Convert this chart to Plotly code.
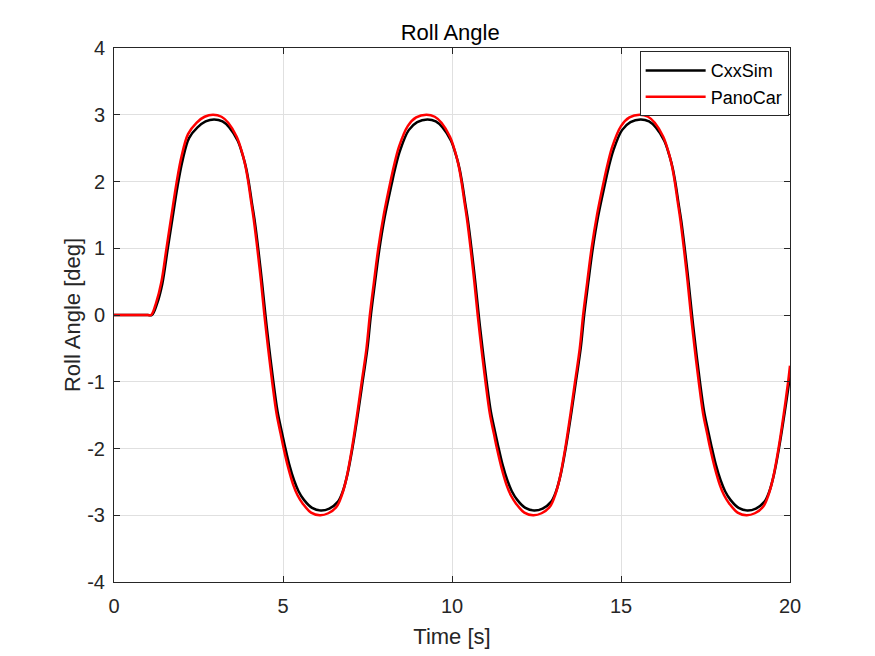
import plotly.graph_objects as go

# PanoCar roll angle (time in s, angle in deg)
t_pano = [0.0, 0.5, 1.0, 1.1,
          1.25, 1.40, 1.55, 1.70, 1.85, 2.00, 2.19, 2.44, 2.68, 2.93,
          3.18, 3.38, 3.63, 3.78, 3.88, 3.97, 4.05, 4.13, 4.24, 4.35, 4.45,
          4.56, 4.68, 4.81, 4.93, 5.02, 5.15, 5.30, 5.43, 5.59, 5.83, 6.09,
          6.34, 6.59, 6.74, 6.88, 7.04, 7.19, 7.33, 7.47, 7.57,
          7.69, 7.82, 7.98, 8.18, 8.29, 8.43, 8.69, 8.94, 9.24,
          9.49, 9.69, 9.94, 10.09, 10.19, 10.28, 10.36, 10.44, 10.55, 10.66, 10.76,
          10.87, 10.99, 11.12, 11.24, 11.33, 11.46, 11.61, 11.74, 11.90, 12.14, 12.40,
          12.65, 12.90, 13.05, 13.19, 13.35, 13.50, 13.64, 13.78, 13.88,
          14.00, 14.13, 14.29, 14.49, 14.60, 14.74, 15.00, 15.25, 15.55,
          15.80, 16.00, 16.25, 16.40, 16.50, 16.59, 16.67, 16.75, 16.86, 16.97, 17.07,
          17.18, 17.30, 17.43, 17.55, 17.64, 17.77, 17.92, 18.05, 18.21, 18.45, 18.71,
          18.96, 19.21, 19.36, 19.50, 19.66, 19.81, 19.95, 20.0]
roll_pano = [0.0, 0.0, 0.0, 0.0,
             0.19, 0.49, 0.99, 1.49, 1.98, 2.38, 2.71, 2.88, 2.97, 3.00,
             2.97, 2.88, 2.67, 2.45, 2.25, 2.00, 1.72, 1.45, 1.00, 0.50, 0.00,
             -0.50, -1.00, -1.48, -1.78, -2.00, -2.28, -2.54, -2.70, -2.83, -2.96, -3.00,
             -2.97, -2.87, -2.70, -2.44, -2.00, -1.50, -1.00, -0.50, 0.00,
             0.49, 1.00, 1.50, 2.00, 2.25, 2.52, 2.83, 2.96, 3.00,
             2.97, 2.88, 2.67, 2.45, 2.25, 2.00, 1.72, 1.45, 1.00, 0.50, 0.00,
             -0.50, -1.00, -1.48, -1.78, -2.00, -2.28, -2.54, -2.70, -2.83, -2.96, -3.00,
             -2.97, -2.87, -2.70, -2.44, -2.00, -1.50, -1.00, -0.50, 0.00,
             0.49, 1.00, 1.50, 2.00, 2.25, 2.52, 2.83, 2.96, 3.00,
             2.97, 2.88, 2.67, 2.45, 2.25, 2.00, 1.72, 1.45, 1.00, 0.50, 0.00,
             -0.50, -1.00, -1.48, -1.78, -2.00, -2.28, -2.54, -2.70, -2.83, -2.96, -3.00,
             -2.97, -2.87, -2.70, -2.44, -2.00, -1.50, -0.98, -0.76]

# CxxSim roll angle (slightly smaller amplitude, tiny lag)
t_cxx = [0.0, 0.5, 1.0, 1.12,
         1.28, 1.43, 1.58, 1.73, 1.88, 2.03, 2.22, 2.47, 2.71, 2.96,
         3.21, 3.41, 3.66, 3.81, 3.91, 4.00, 4.08, 4.16, 4.27, 4.38, 4.48,
         4.59, 4.71, 4.84, 4.96, 5.05, 5.18, 5.33, 5.46, 5.62, 5.86, 6.12,
         6.37, 6.62, 6.77, 6.91, 7.07, 7.22, 7.36, 7.50, 7.60,
         7.72, 7.85, 8.01, 8.21, 8.32, 8.46, 8.72, 8.97, 9.27,
         9.52, 9.72, 9.97, 10.12, 10.22, 10.31, 10.39, 10.47, 10.58, 10.69, 10.79,
         10.90, 11.02, 11.15, 11.27, 11.36, 11.49, 11.64, 11.77, 11.93, 12.17, 12.43,
         12.68, 12.93, 13.08, 13.22, 13.38, 13.53, 13.67, 13.81, 13.91,
         14.03, 14.16, 14.32, 14.52, 14.63, 14.77, 15.03, 15.28, 15.58,
         15.83, 16.03, 16.28, 16.43, 16.53, 16.62, 16.70, 16.78, 16.89, 17.00, 17.10,
         17.21, 17.33, 17.46, 17.58, 17.67, 17.80, 17.95, 18.08, 18.24, 18.48, 18.74,
         18.99, 19.24, 19.39, 19.53, 19.69, 19.84, 19.98, 20.0]
roll_cxx = [0.0, 0.0, 0.0, 0.0,
            0.18, 0.47, 0.96, 1.45, 1.93, 2.32, 2.65, 2.81, 2.90, 2.93,
            2.90, 2.81, 2.61, 2.39, 2.20, 1.95, 1.68, 1.42, 0.98, 0.49, 0.00,
            -0.49, -0.98, -1.45, -1.74, -1.95, -2.23, -2.48, -2.64, -2.77, -2.89, -2.93,
            -2.90, -2.80, -2.64, -2.38, -1.95, -1.47, -0.98, -0.49, 0.00,
            0.48, 0.98, 1.47, 1.95, 2.20, 2.46, 2.77, 2.89, 2.93,
            2.90, 2.81, 2.61, 2.39, 2.20, 1.95, 1.68, 1.42, 0.98, 0.49, 0.00,
            -0.49, -0.98, -1.45, -1.74, -1.95, -2.23, -2.48, -2.64, -2.77, -2.89, -2.93,
            -2.90, -2.80, -2.64, -2.38, -1.95, -1.47, -0.98, -0.49, 0.00,
            0.48, 0.98, 1.47, 1.95, 2.20, 2.46, 2.77, 2.89, 2.93,
            2.90, 2.81, 2.61, 2.39, 2.20, 1.95, 1.68, 1.42, 0.98, 0.49, 0.00,
            -0.49, -0.98, -1.45, -1.74, -1.95, -2.23, -2.48, -2.64, -2.77, -2.89, -2.93,
            -2.90, -2.80, -2.64, -2.38, -1.95, -1.47, -0.98, -0.88]

x_ticks = [0, 5, 10, 15, 20]
y_ticks = [-4, -3, -2, -1, 0, 1, 2, 3, 4]
y_tick_labels = ["-4", "-3", "-2", "-1", "0", "1", "2", "3", "4"]  # plain hyphen, like MATLAB

fig = go.Figure()
fig.add_trace(go.Scatter(x=t_cxx, y=roll_cxx, mode="lines", name="CxxSim",
                         line=dict(color="black", width=2.5, shape="spline", smoothing=1)))
fig.add_trace(go.Scatter(x=t_pano, y=roll_pano, mode="lines", name="PanoCar",
                         line=dict(color="red", width=2.5, shape="spline", smoothing=1)))

axis_style = dict(showline=True, linecolor="#262626", linewidth=1, mirror="ticks",
                  ticks="inside", ticklen=6, tickcolor="#262626",
                  showgrid=True, gridcolor="#e0e0e0", gridwidth=1, zeroline=False,
                  tickfont=dict(size=20, color="#262626"))

fig.update_xaxes(range=[0, 20], tickvals=x_ticks, ticklabelstandoff=6,
                 title=dict(text="Time [s]", font=dict(size=22, color="#262626"), standoff=12),
                 **axis_style)
fig.update_yaxes(range=[-4, 4], tickvals=y_ticks, ticktext=y_tick_labels, ticklabelstandoff=4,
                 title=dict(text="Roll Angle [deg]", font=dict(size=22, color="#262626"), standoff=0),
                 **axis_style)

# page body has an 8px margin, so the figure is 8px smaller than the window
fig.update_layout(
    width=867, height=648,
    margin=dict(l=106, r=85, t=40, b=72),
    paper_bgcolor="white", plot_bgcolor="white",
    font=dict(family="Liberation Sans, Arial, sans-serif", color="#262626"),
    title=dict(text="Roll Angle", x=0.51, xanchor="center", y=0.963, yanchor="middle",
               font=dict(size=22, color="black")),
    legend=dict(x=0.998, xanchor="right", y=0.994, yanchor="top",
                bgcolor="white", bordercolor="#262626", borderwidth=1,
                itemwidth=60, font=dict(size=18, color="black"), tracegroupgap=0),
    showlegend=True,
)

fig.write_html("out.html")
